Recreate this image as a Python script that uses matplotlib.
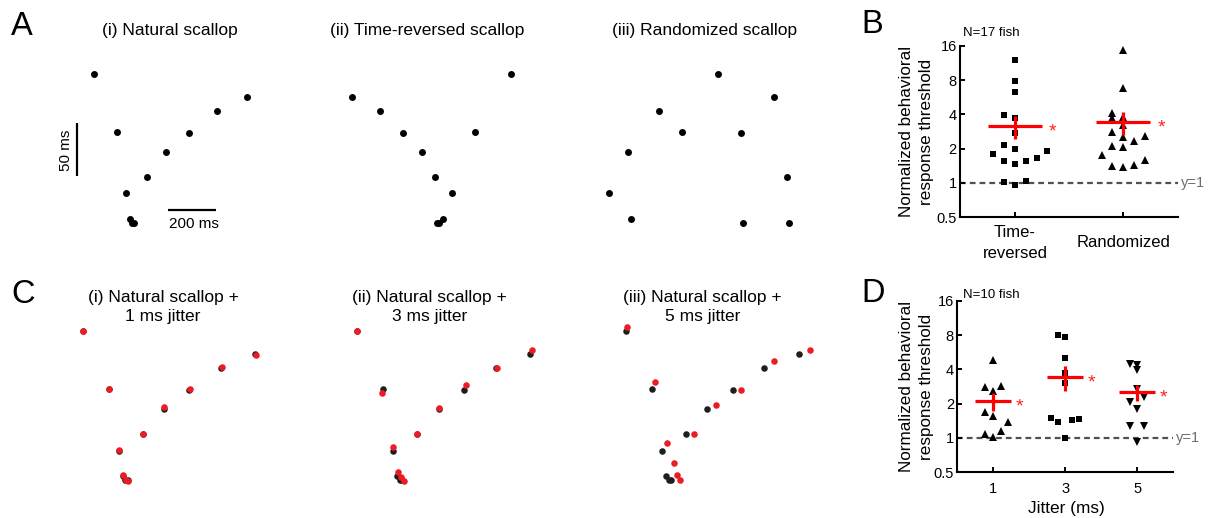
import matplotlib
matplotlib.use("Agg")
import numpy as np
import matplotlib.pyplot as plt
from matplotlib.ticker import FixedLocator, FixedFormatter, NullLocator

plt.rcParams["font.family"] = ["Liberation Sans", "DejaVu Sans"]

W, H = 1212, 518
fig = plt.figure(figsize=(W / 100, H / 100), dpi=100)

# ---------------------------------------------------------------- data
# Pulse trains: pulse time (ms) and the interval preceding each pulse (ms)
natural_t = [0, 96, 134, 149, 158, 167, 222, 302, 396, 513, 640]
natural_iv = [152, 97, 38, 14, 10, 10, 54, 78, 96, 117, 130]
reversed_t = [0, 117, 213, 291, 345, 355, 365, 379, 417, 514, 663]
reversed_iv = [130, 117, 96, 78, 54, 10, 10, 14, 38, 97, 152]
random_t = [0, 78, 92, 208, 306, 457, 552, 561, 691, 745, 754]
random_iv = [38, 78, 14, 117, 97, 152, 96, 10, 130, 54, 10]

# Natural scallop with added timing jitter
jit1_t = [0, 96.5, 134.7, 148.4, 160, 169, 222.6, 300.5, 398, 515.7, 641.8]
jit1_iv = [152.7, 97.3, 38.7, 15, 10, 9, 54, 80, 97.3, 118.3, 129.2]
jit3_t = [0, 91.6, 132.4, 150, 162, 172, 221.6, 302, 402, 517, 649]
jit3_iv = [152.2, 93.5, 41.5, 17.9, 12.6, 9.3, 53.7, 79, 101, 117.4, 134.7]
jit5_t = [4.8, 106.5, 151, 177, 190.5, 200.5, 253.5, 332.8, 427.8, 550, 681]
jit5_iv = [156.6, 103.4, 45.4, 26.3, 14.5, 10, 54, 81.5, 95.8, 123.8, 134.3]

# Normalized behavioral response thresholds
b_categories = ["Time-\nreversed", "Randomized"]
tr_vals = [11.9, 7.84, 6.32, 3.93, 3.72, 2.77, 2.14, 2.0, 1.81, 1.90,
           1.57, 1.47, 1.57, 1.65, 1.01, 1.04, 0.96]
rnd_vals = [14.56, 6.81, 4.15, 3.72, 3.80, 3.21, 2.80, 2.53, 2.32, 2.59,
            2.11, 2.07, 1.75, 1.41, 1.37, 1.45, 1.58]

d_jitters = [1, 3, 5]
j1_vals = [4.86, 2.80, 2.58, 2.84, 1.70, 1.57, 1.37, 1.16, 1.08, 1.01]
j3_vals = [8.05, 7.68, 5.06, 3.72, 3.02, 1.50, 1.38, 1.44, 1.46, 1.0]
j5_vals = [4.50, 4.41, 3.93, 2.71, 2.29, 2.07, 1.81, 1.27, 1.27, 0.92]

y_ticks = [0.5, 1, 2, 4, 8, 16]
y_ticklabels = ["0.5", "1", "2", "4", "8", "16"]

# horizontal spread of the individual points (beeswarm layout)
tr_dx = [0, 0, 0, -0.1, 0, 0, -0.1, 0, -0.2, 0.3, -0.1, 0, 0.1, 0.2, -0.1, 0.1, 0]
rnd_dx = [0, 0, -0.1, -0.1, 0, 0, -0.1, 0, 0.1, 0.2, -0.1, 0, -0.2, -0.1, 0, 0.1, 0.2]
j1_dx = [0, -0.22, 0, 0.22, -0.22, 0, 0.41, 0.22, -0.22, 0]
j3_dx = [-0.21, 0, 0, 0, 0, -0.4, -0.2, 0.2, 0.39, 0]
j5_dx = [-0.2, 0, 0, 0, 0.2, -0.2, 0, -0.2, 0.2, 0]

RED = "#ff0000"
DOT_RED = "#ec1c24"
DOT_DARK = "#1e1e1e"
SQ_MS = 4.0
TRI_MS = 6.2


def fx(px):
    return px / W


def fy(py):
    return 1 - py / H


def train_axes(box, x0, yref, sx, sy):
    """Invisible axes: pixel x0 is t=0, pixel yref is a 10 ms interval."""
    left, top, w, h = box
    ax = fig.add_axes([left / W, 1 - (top + h) / H, w / W, h / H])
    ax.set_xlim((left - x0) * sx, (left + w - x0) * sx)
    ax.set_ylim(10 - (top + h - yref) * sy, 10 + (yref - top) * sy)
    ax.axis("off")
    return ax


def label(x, y, s, size, **kw):
    fig.text(fx(x), fy(y), s, fontsize=size, va="baseline", **kw)


# ------------------------------------------------------------ panel A
SY = 0.956
SX_A = 4.19
a_trains = [(natural_t, natural_iv), (reversed_t, reversed_iv), (random_t, random_iv)]
a_x0 = [94.3, 352.3, 609.0]
a_left = [40, 300, 560]
a_axes = []
for (t, iv), x0, left in zip(a_trains, a_x0, a_left):
    ax = train_axes((left, 50, 250, 195), x0, 222.7, SX_A, SY)
    ax.plot(t, iv, "o", color="black", ms=5.0, mew=0, clip_on=False)
    a_axes.append(ax)

# scale bars
axA = a_axes[0]
axA.plot([-72.5, -72.5], [55, 105], color="black", lw=1.6, solid_capstyle="butt")
axA.plot([310, 510], [22, 22], color="black", lw=1.6, solid_capstyle="butt")
fig.text(fx(66.4), fy(150.3), "50 ms", rotation=90, ha="center", va="center", fontsize=11)
label(193.8, 228.3, "200 ms", 11, ha="center")

label(170, 35, "(i) Natural scallop", 12.5, ha="center")
label(427.3, 35, "(ii) Time-reversed scallop", 12.5, ha="center")
label(705, 35, "(iii) Randomized scallop", 12.5, ha="center")

# ------------------------------------------------------------ panel C
SX_C = 3.71
c_jittered = [(jit1_t, jit1_iv), (jit3_t, jit3_iv), (jit5_t, jit5_iv)]
c_x0 = [82.7, 357.3, 626.0]
c_left = [40, 300, 560]
for (t, iv), x0, left in zip(c_jittered, c_x0, c_left):
    ax = train_axes((left, 322, 270, 180), x0, 480.0, SX_C, SY)
    ax.plot(natural_t, natural_iv, "o", color=DOT_DARK, ms=4.7, mew=0, clip_on=False)
    ax.plot(t, iv, "o", color=DOT_RED, ms=4.7, mew=0, clip_on=False)

c_titles = [("(i) Natural scallop +", "1 ms jitter", 163),
            ("(ii) Natural scallop +", "3 ms jitter", 429.5),
            ("(iii) Natural scallop +", "5 ms jitter", 702.5)]
for l1, l2, xc in c_titles:
    label(xc, 301.7, l1, 12.5, ha="center")
    label(xc, 320.7, l2, 12.5, ha="center")


# ------------------------------------------------------- summary axes
def summary_axes(left, top, right, bottom):
    ax = fig.add_axes([left / W, 1 - bottom / H, (right - left) / W, (bottom - top) / H])
    ax.set_yscale("log", base=2)
    ax.set_ylim(0.5, 16)
    ax.yaxis.set_major_locator(FixedLocator(y_ticks))
    ax.yaxis.set_major_formatter(FixedFormatter(y_ticklabels))
    ax.yaxis.set_minor_locator(NullLocator())
    ax.xaxis.set_minor_locator(NullLocator())
    for s in ("top", "right"):
        ax.spines[s].set_visible(False)
    for s in ("left", "bottom"):
        ax.spines[s].set_linewidth(1.5)
    ax.tick_params(direction="in", length=3.6, width=1.4, labelsize=10.5, colors="black")
    ax.tick_params(axis="y", pad=2.4)
    ax.axhline(1, color="#505050", lw=1.6, ls=(0, (2.6, 1.8)), zorder=1)
    ax.text(1.012, 1, "y=1", transform=ax.get_yaxis_transform(), color="#6e6e6e",
            fontsize=10.5, va="center", ha="left", clip_on=False)
    ax.patch.set_alpha(0)
    return ax


def mean_sem(ax, x, vals, half, star_dx):
    v = np.asarray(vals, dtype=float)
    m = v.mean()
    sem = v.std(ddof=1) / np.sqrt(len(v))
    ax.plot([x - half, x + half], [m, m], color=RED, lw=2.3, solid_capstyle="butt", zorder=4)
    ax.plot([x, x], [m - sem, m + sem], color=RED, lw=2.3, solid_capstyle="butt", zorder=4)
    ax.annotate("*", xy=(x + star_dx, m), xytext=(0, -7.6), textcoords="offset points",
                color="#ff2020", fontsize=14, ha="center", va="baseline")


def ylabel_lines(yc):
    fig.text(fx(910.7), fy(yc), "Normalized behavioral", rotation=90, rotation_mode="anchor",
             ha="center", va="baseline", fontsize=12.3)
    fig.text(fx(930.7), fy(yc), "response threshold", rotation=90, rotation_mode="anchor",
             ha="center", va="baseline", fontsize=12.3)


# ------------------------------------------------------------ panel B
axB = summary_axes(960, 45.7, 1178.3, 217.3)
axB.set_xlim(0.492, 2.508)
b_x = [1, 2]
axB.plot(b_x[0] + np.asarray(tr_dx), tr_vals, "s", color="black", ms=SQ_MS, mew=0, zorder=3)
axB.plot(b_x[1] + np.asarray(rnd_dx), rnd_vals, "^", color="black", ms=TRI_MS, mew=0, zorder=3)
mean_sem(axB, b_x[0], tr_vals, 0.25, 0.345)
mean_sem(axB, b_x[1], rnd_vals, 0.25, 0.355)
axB.set_xticks(b_x)
axB.set_xticklabels(b_categories, fontsize=12)
axB.tick_params(axis="x", pad=18.5)
for lbl in axB.get_xticklabels():
    lbl.set_va("center")
    lbl.set_linespacing(1.55)
ylabel_lines(131.5)
label(963.3, 35.7, "N=17 fish", 9.5, ha="left")

# ------------------------------------------------------------ panel D
axD = summary_axes(957.3, 300.7, 1173.3, 472.3)
axD.set_xlim(0, 6)
axD.plot(d_jitters[0] + np.asarray(j1_dx), j1_vals, "^", color="black", ms=TRI_MS, mew=0, zorder=3)
axD.plot(d_jitters[1] + np.asarray(j3_dx), j3_vals, "s", color="black", ms=SQ_MS, mew=0, zorder=3)
axD.plot(d_jitters[2] + np.asarray(j5_dx), j5_vals, "v", color="black", ms=TRI_MS, mew=0, zorder=3)
for xj, vals in zip(d_jitters, [j1_vals, j3_vals, j5_vals]):
    mean_sem(axD, xj, vals, 0.5, 0.72)
axD.set_xticks(d_jitters)
axD.set_xticklabels([str(j) for j in d_jitters])
axD.tick_params(axis="x", pad=6.7)
axD.set_xlabel("Jitter (ms)", fontsize=12.4)
axD.xaxis.set_label_coords(0.5065, -0.165)
axD.xaxis.label.set_va("top")
ylabel_lines(386.5)
label(962.7, 297.7, "N=10 fish", 9.5, ha="left")

# ------------------------------------------------------- panel letters
label(11, 35, "A", 23.5, ha="left")
label(861.7, 33.3, "B", 23.5, ha="left")
label(11.7, 303.3, "C", 23.5, ha="left")
label(861.7, 301.7, "D", 23.5, ha="left")

fig.savefig("out.png", dpi=100)
